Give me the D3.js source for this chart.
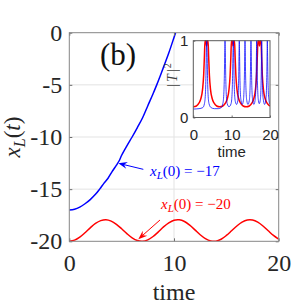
<!DOCTYPE html>
<html>
<head>
<meta charset="utf-8">
<script src="https://cdn.jsdelivr.net/npm/d3@7"></script>
<style>
  body { margin: 0; background: #fff; }
  svg { display: block; }
</style>
</head>
<body>
<div id="chart"></div>
<script>
// main panel: red trajectory x_L(0) = -20
const redTime = [0, 0.5, 1, 1.5, 2, 2.5, 3, 3.5, 4, 4.5, 5, 5.5, 6, 6.5, 7, 7.5, 8, 8.5, 9, 9.5, 10,
                 10.5, 11, 11.5, 12, 12.5, 13, 13.5, 14, 14.5, 15, 15.5, 16, 16.5, 17, 17.5, 18, 18.5, 19, 19.5, 20];
const redPos = [-20, -19.89, -19.6, -19.18, -18.71, -18.29, -18.02, -17.93, -18.06, -18.37, -18.8,
                -19.27, -19.67, -19.93, -20, -19.86, -19.54, -19.1, -18.62, -18.23, -17.98,
                -17.94, -18.1, -18.45, -18.9, -19.37, -19.74, -19.96, -19.99, -19.8, -19.44,
                -18.99, -18.53, -18.16, -17.96, -17.96, -18.16, -18.53, -18.99, -19.44, -19.8];

// main panel: blue trajectory x_L(0) = -17
const blueTime = [0, 0.5, 1, 1.5, 2, 2.5, 2.9, 3.3, 3.7, 4.1, 4.5, 4.75, 5, 5.5, 6, 6.5, 7, 7.5, 8, 8.35, 8.7, 9, 9.5, 10, 10.15];
const bluePos = [-17, -16.92, -16.72, -16.4, -16, -15.5, -15, -14.45, -13.95, -13.3, -12.7, -12.3, -11.75,
                 -10.85, -10, -9.1, -8.15, -7, -5.85, -5, -4.1, -3.3, -1.95, -0.45, 0];

// inset |T|^2
const insetRedTime = [0, 0.8, 1.5, 2, 2.4, 2.7, 2.9, 3.05, 3.3, 3.45, 3.6, 3.85, 4, 4.2, 4.5, 4.9, 5.4, 6.1,
                      6.9, 7.7, 8.4, 8.9, 9.3, 9.6, 9.8, 9.95, 10.2, 10.35, 10.5, 10.75, 10.9, 11.1, 11.4, 11.8, 12.3, 13,
                      13.8, 14.6, 15.3, 15.8, 16.2, 16.5, 16.7, 16.85, 17.1, 17.25, 17.4, 17.65, 17.8, 18, 18.3, 18.7, 19.2, 19.7, 20];
const insetRed = [0.14, 0.15, 0.19, 0.25, 0.36, 0.55, 0.8, 1, 1, 0.93, 1, 1, 0.8, 0.55, 0.36, 0.25, 0.19, 0.15,
                  0.14, 0.15, 0.19, 0.25, 0.36, 0.55, 0.8, 1, 1, 0.93, 1, 1, 0.8, 0.55, 0.36, 0.25, 0.19, 0.15,
                  0.14, 0.15, 0.19, 0.25, 0.36, 0.55, 0.8, 1, 1, 0.93, 1, 1, 0.8, 0.55, 0.36, 0.25, 0.19, 0.16, 0.15];

const insetBlueTime = [0, 1.5, 2.5, 2.9, 3.15, 3.3, 3.4, 3.5, 3.6, 3.7, 3.85, 4.1, 4.6, 5.5, 6.5,
                       7.3, 7.7, 7.95, 8.1, 8.2, 8.27, 8.35, 8.45, 8.6, 8.85, 9.3,
                       9.85, 10.1, 10.25, 10.35, 10.43, 10.52, 10.62, 10.77, 11, 11.3,
                       11.6, 11.75, 11.87, 11.93, 11.99, 12.06, 12.13, 12.25, 12.45, 12.75,
                       13.05, 13.22, 13.35, 13.42, 13.48, 13.55, 13.62, 13.75, 13.95, 14.25,
                       14.6, 14.78, 14.9, 14.97, 15.04, 15.11, 15.18, 15.3, 15.5, 15.8,
                       16.1, 16.28, 16.4, 16.47, 16.53, 16.6, 16.67, 16.8, 16.98, 17.2,
                       17.45, 17.62, 17.73, 17.79, 17.84, 17.9, 17.96, 18.08, 18.3, 18.6,
                       18.9, 19.07, 19.18, 19.25, 19.3, 19.36, 19.43, 19.55, 19.75, 20];
const insetBlue = [0.11, 0.115, 0.13, 0.18, 0.3, 0.55, 0.85, 1, 0.85, 0.55, 0.3, 0.18, 0.13, 0.115, 0.115,
                   0.13, 0.18, 0.3, 0.55, 0.85, 1, 0.85, 0.55, 0.3, 0.18, 0.14,
                   0.18, 0.3, 0.55, 0.85, 1, 0.85, 0.55, 0.3, 0.2, 0.17,
                   0.22, 0.35, 0.6, 0.85, 1, 0.85, 0.6, 0.35, 0.22, 0.17,
                   0.22, 0.35, 0.6, 0.85, 1, 0.85, 0.6, 0.35, 0.22, 0.17,
                   0.22, 0.35, 0.6, 0.85, 1, 0.85, 0.6, 0.35, 0.22, 0.17,
                   0.22, 0.35, 0.6, 0.85, 1, 0.85, 0.6, 0.35, 0.22, 0.18,
                   0.22, 0.35, 0.6, 0.85, 1, 0.85, 0.6, 0.35, 0.22, 0.17,
                   0.22, 0.35, 0.6, 0.85, 1, 0.85, 0.6, 0.35, 0.22, 0.17];

const xTicks = [0, 10, 20];
const yTicks = [0, -5, -10, -15, -20];
const insetXTicks = [0, 10, 20];
const insetYTicks = [0, 1];

// annotation arrows (data units): [time, position]
const blueArrow = {tail: [7.07, -13.1], tip: [4.68, -12.52]};
const redArrow = {tail: [8.66, -17.96], tip: [6.59, -19.8]};

const W = 294, H = 307;
const box = {left: 69.3, top: 32.7, right: 278.7, bottom: 241.3};
const inset = {left: 193.3, top: 40.7, right: 270, bottom: 117.5};

const svg = d3.select("#chart").append("svg")
    .attr("width", W)
    .attr("height", H);

svg.append("rect").attr("width", W).attr("height", H).attr("fill", "#fff");

const x = d3.scaleLinear().domain([0, 20]).range([box.left, box.right]);
const y = d3.scaleLinear().domain([-20, 0]).range([box.bottom, box.top]);

// grid lines
const grid = svg.append("g").attr("stroke", "#e3e3e3").attr("stroke-width", 1);
grid.selectAll(".gx").data(xTicks.slice(1, -1)).enter().append("line")
    .attr("x1", d => x(d)).attr("x2", d => x(d))
    .attr("y1", box.top).attr("y2", box.bottom);
grid.selectAll(".gy").data(yTicks.slice(1, -1)).enter().append("line")
    .attr("x1", box.left).attr("x2", box.right)
    .attr("y1", d => y(d)).attr("y2", d => y(d));

svg.append("clipPath").attr("id", "clipMain")
    .append("rect")
    .attr("x", box.left).attr("y", box.top)
    .attr("width", box.right - box.left).attr("height", box.bottom - box.top);

const line = d3.line().x(d => x(d[0])).y(d => y(d[1])).curve(d3.curveCatmullRom);

const curves = svg.append("g").attr("clip-path", "url(#clipMain)").attr("fill", "none");
curves.append("path")
    .datum(redTime.map((t, i) => [t, redPos[i]]))
    .attr("d", line)
    .attr("stroke", "#ff0000")
    .attr("stroke-width", 1.5);
curves.append("path")
    .datum(blueTime.map((t, i) => [t, bluePos[i]]))
    .attr("d", line)
    .attr("stroke", "#0000ff")
    .attr("stroke-width", 1.5);

// axes box and ticks
function styleAxis(g, font, size) {
    g.select(".domain").remove();
    g.selectAll(".tick line").attr("stroke", "#6e6e6e");
    g.selectAll(".tick text")
        .attr("fill", "#262626")
        .style("font-family", font)
        .style("font-size", size + "px");
}

const serif = "'Liberation Serif', 'Times New Roman', serif";
const sans = "'Liberation Sans', Arial, sans-serif";

svg.append("g").attr("transform", `translate(${box.left},0)`)
    .call(d3.axisLeft(y).tickValues(yTicks).tickSize(-3).tickPadding(7).tickFormat(d => String(d)))
    .call(g => styleAxis(g, serif, 24));
svg.append("g").attr("transform", `translate(${box.right},0)`)
    .call(d3.axisRight(y).tickValues(yTicks).tickSize(-3).tickFormat(""))
    .call(g => styleAxis(g, serif, 24));
svg.append("g").attr("transform", `translate(0,${box.bottom})`)
    .call(d3.axisBottom(x).tickValues(xTicks).tickSize(-3).tickPadding(13).tickFormat(d => String(d)))
    .call(g => styleAxis(g, serif, 24));
svg.append("g").attr("transform", `translate(0,${box.top})`)
    .call(d3.axisTop(x).tickValues(xTicks).tickSize(-3).tickFormat(""))
    .call(g => styleAxis(g, serif, 24));

svg.append("rect")
    .attr("x", box.left).attr("y", box.top)
    .attr("width", box.right - box.left).attr("height", box.bottom - box.top)
    .attr("fill", "none").attr("stroke", "#868686").attr("stroke-width", 1);

// axis labels
svg.append("text")
    .attr("x", (box.left + box.right) / 2).attr("y", 300)
    .attr("text-anchor", "middle")
    .style("font-family", serif).style("font-size", "24px").attr("fill", "#262626")
    .text("time");

const ylab = svg.append("text")
    .attr("transform", `translate(20,${(box.top + box.bottom) / 2}) rotate(-90)`)
    .attr("text-anchor", "middle")
    .style("font-family", serif).style("font-size", "23px").attr("fill", "#262626");
ylab.append("tspan").style("font-style", "italic").text("x");
ylab.append("tspan").style("font-style", "italic").style("font-size", "16px").attr("dy", 5).text("L");
ylab.append("tspan").attr("dy", -5).text("(");
ylab.append("tspan").style("font-style", "italic").text("t");
ylab.append("tspan").text(")");

svg.append("text")
    .attr("x", 100).attr("y", 65)
    .style("font-family", serif).style("font-size", "31px").attr("fill", "#111")
    .text("(b)");

// annotations
function drawArrow(a, color) {
    const x0 = x(a.tail[0]), y0 = y(a.tail[1]);
    const x1 = x(a.tip[0]), y1 = y(a.tip[1]);
    const ang = Math.atan2(y1 - y0, x1 - x0);
    const L = 9, hw = 3.5;
    const ux = Math.cos(ang), uy = Math.sin(ang);
    svg.append("line")
        .attr("x1", x0).attr("y1", y0)
        .attr("x2", x1 - ux * L * 0.6).attr("y2", y1 - uy * L * 0.6)
        .attr("stroke", color).attr("stroke-width", 1);
    const pts = [
        [x1, y1],
        [x1 - ux * L - uy * hw, y1 - uy * L + ux * hw],
        [x1 - ux * L * 0.65, y1 - uy * L * 0.65],
        [x1 - ux * L + uy * hw, y1 - uy * L - ux * hw]
    ];
    svg.append("polygon").attr("points", pts.map(p => p.join(",")).join(" ")).attr("fill", color);
}
drawArrow(blueArrow, "#0000ff");
drawArrow(redArrow, "#ff0000");

function mathLabel(px, py, value, color) {
    const t = svg.append("text")
        .attr("x", px).attr("y", py)
        .style("font-family", serif).style("font-size", "15px").attr("fill", color);
    t.append("tspan").style("font-style", "italic").text("x");
    t.append("tspan").style("font-style", "italic").style("font-size", "11px").attr("dy", 3).text("L");
    t.append("tspan").attr("dy", -3).text("(0) = \u2212" + value);
}
mathLabel(x(7.71), y(-13.71), "17", "#0000ff");
mathLabel(x(8.76), y(-16.9), "20", "#ff0000");

// inset
const ix = d3.scaleLinear().domain([0, 20]).range([inset.left, inset.right]);
const iy = d3.scaleLinear().domain([0, 1]).range([inset.bottom, inset.top]);

svg.append("rect")
    .attr("x", inset.left).attr("y", inset.top)
    .attr("width", inset.right - inset.left).attr("height", inset.bottom - inset.top)
    .attr("fill", "#fff");

svg.append("clipPath").attr("id", "clipInset")
    .append("rect")
    .attr("x", inset.left).attr("y", inset.top - 1)
    .attr("width", inset.right - inset.left).attr("height", inset.bottom - inset.top + 1);

const iline = d3.line().x(d => ix(d[0])).y(d => iy(d[1])).curve(d3.curveMonotoneX);
const icurves = svg.append("g").attr("clip-path", "url(#clipInset)").attr("fill", "none");
icurves.append("path")
    .datum(insetRedTime.map((t, i) => [t, insetRed[i]]))
    .attr("d", iline)
    .attr("stroke", "#ff0000")
    .attr("stroke-width", 1.5);
icurves.append("path")
    .datum(insetBlueTime.map((t, i) => [t, insetBlue[i]]))
    .attr("d", iline)
    .attr("stroke", "#0000ff")
    .attr("stroke-opacity", 0.75)
    .attr("stroke-width", 1);

svg.append("g").attr("transform", `translate(${inset.left},0)`)
    .call(d3.axisLeft(iy).tickValues(insetYTicks).tickSize(-2).tickPadding(5).tickFormat(d => String(d)))
    .call(g => styleAxis(g, sans, 15));
svg.append("g").attr("transform", `translate(0,${inset.bottom})`)
    .call(d3.axisBottom(ix).tickValues(insetXTicks).tickSize(-2).tickPadding(12).tickFormat(d => String(d)))
    .call(g => styleAxis(g, sans, 15));

svg.append("rect")
    .attr("x", inset.left).attr("y", inset.top)
    .attr("width", inset.right - inset.left).attr("height", inset.bottom - inset.top)
    .attr("fill", "none").attr("stroke", "#5a5a5a").attr("stroke-width", 1);

svg.append("text")
    .attr("x", (inset.left + inset.right) / 2).attr("y", 157)
    .attr("text-anchor", "middle")
    .style("font-family", sans).style("font-size", "15px").attr("fill", "#262626")
    .text("time");

const ilab = svg.append("text")
    .attr("transform", `translate(177,75) rotate(-90)`)
    .attr("text-anchor", "middle")
    .style("font-family", serif).style("font-size", "14px").attr("fill", "#404040");
ilab.append("tspan").text("|");
ilab.append("tspan").attr("dx", 2).style("font-style", "italic").text("T");
ilab.append("tspan").attr("dx", 2).text("|");
ilab.append("tspan").attr("dx", 1).attr("dy", -6).style("font-size", "10px").text("2");
</script>
</body>
</html>
